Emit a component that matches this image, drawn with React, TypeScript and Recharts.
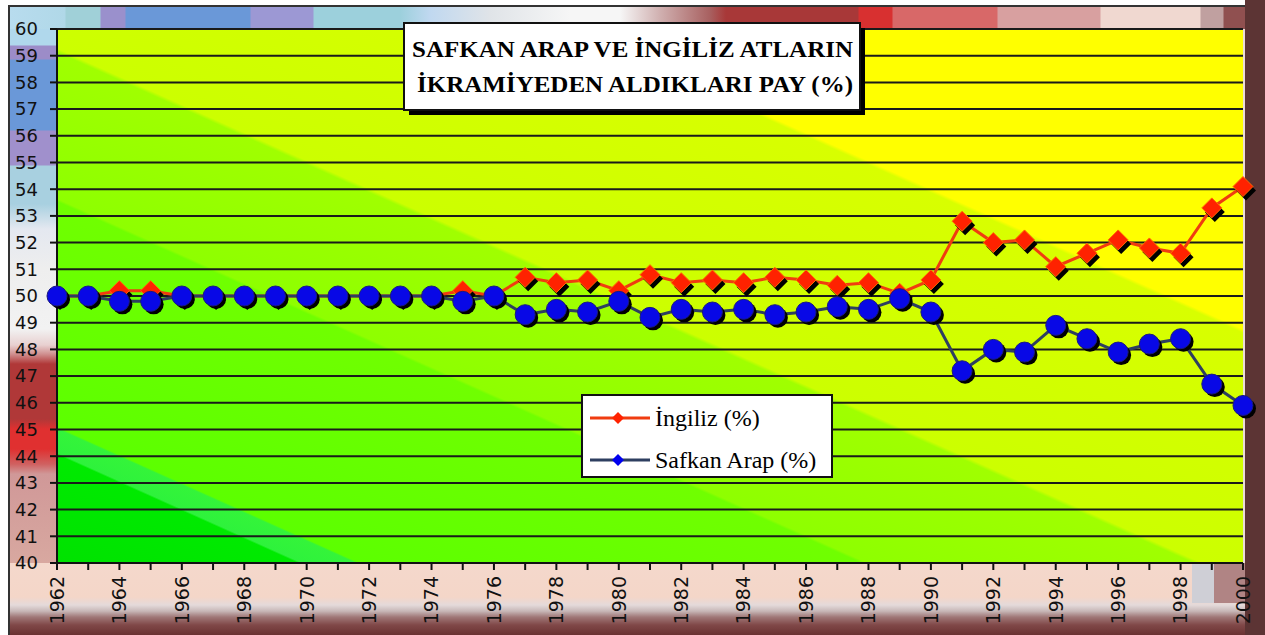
import React from 'react';
import { LineChart, Line, XAxis, YAxis, CartesianGrid, Legend } from 'recharts';

const years = [
  1962, 1963, 1964, 1965, 1966, 1967, 1968, 1969, 1970, 1971, 1972, 1973, 1974,
  1975, 1976, 1977, 1978, 1979, 1980, 1981, 1982, 1983, 1984, 1985, 1986, 1987,
  1988, 1989, 1990, 1991, 1992, 1993, 1994, 1995, 1996, 1997, 1998, 1999, 2000,
];

const ingilizShare = [
  50.0, 50.0, 50.2, 50.2, 50.0, 50.0, 50.0, 50.0, 50.0, 50.0, 50.0, 50.0, 50.0,
  50.2, 50.0, 50.7, 50.5, 50.6, 50.2, 50.8, 50.5, 50.6, 50.5, 50.7, 50.6, 50.4,
  50.5, 50.1, 50.6, 52.8, 52.0, 52.1, 51.1, 51.6, 52.1, 51.8, 51.6, 53.3, 54.1,
];

const safkanArapShare = [
  50.0, 50.0, 49.8, 49.8, 50.0, 50.0, 50.0, 50.0, 50.0, 50.0, 50.0, 50.0, 50.0,
  49.8, 50.0, 49.3, 49.5, 49.4, 49.8, 49.2, 49.5, 49.4, 49.5, 49.3, 49.4, 49.6,
  49.5, 49.9, 49.4, 47.2, 48.0, 47.9, 48.9, 48.4, 47.9, 48.2, 48.4, 46.7, 45.9,
];

const yTicks = [40, 41, 42, 43, 44, 45, 46, 47, 48, 49, 50, 51, 52, 53, 54, 55, 56, 57, 58, 59, 60];

const titleLines = ['SAFKAN ARAP VE İNGİLİZ ATLARIN', 'İKRAMİYEDEN ALDIKLARI PAY (%)'];
const seriesKeys = ['ingiliz', 'safkan'];
const seriesNames = { ingiliz: 'İngiliz (%)', safkan: 'Safkan Arap (%)' };

const data = years.map((year, i) => ({
  year,
  ingiliz: ingilizShare[i],
  safkan: safkanArapShare[i],
}));

const markerColors: Record<string, string> = { ingiliz: '#ff2200', safkan: '#0000ee' };

const XTick = (props: any) => {
  const { x, y, payload } = props;
  if (payload.value % 2 !== 0) return <g />;
  return (
    <text
      x={x}
      y={y}
      transform={`rotate(-90 ${x} ${y})`}
      textAnchor="end"
      dy="0.36em"
      fontFamily='"DejaVu Sans", sans-serif'
      fontSize={19}
      fill="#111"
    >
      {payload.value}
    </text>
  );
};

const RedDot = (props: any) => {
  const { cx, cy, index } = props;
  if (cx == null || cy == null) return <g key={`r-${index}`} />;
  const h = 10;
  const pts = (dx: number, dy: number) =>
    `${cx + dx},${cy + dy - h} ${cx + dx + h},${cy + dy} ${cx + dx},${cy + dy + h} ${cx + dx - h},${cy + dy}`;
  return (
    <g key={`r-${index}`}>
      <polygon points={pts(3, 4)} fill="#000" />
      <polygon points={pts(0, 0)} fill="#ff2200" stroke="#ff6a00" strokeWidth={1} />
    </g>
  );
};

const BlueDot = (props: any) => {
  const { cx, cy, index } = props;
  if (cx == null || cy == null) return <g key={`b-${index}`} />;
  return (
    <g key={`b-${index}`}>
      <circle cx={cx + 3} cy={cy + 3} r={10} fill="#000" />
      <circle cx={cx} cy={cy} r={10} fill="#0808e6" stroke="#1a1a80" strokeWidth={1} />
    </g>
  );
};

const LegendBox = (props: any) => {
  const payload = [...(props.payload || [])].sort(
    (a: any, b: any) => seriesKeys.indexOf(a.dataKey) - seriesKeys.indexOf(b.dataKey)
  );
  return (
    <div
      style={{
        width: 252,
        height: 84,
        background: '#fff',
        border: '2px solid #111',
        boxSizing: 'border-box',
        fontFamily: '"Liberation Serif", "Times New Roman", serif',
        fontSize: 24,
        color: '#000',
        paddingTop: 1,
      }}
    >
      {payload.map((entry: any, i: number) => (
        <div key={i} style={{ display: 'flex', alignItems: 'center', height: 42, marginLeft: 5 }}>
          <svg width={64} height={16} style={{ display: 'block' }}>
            <line x1={2} y1={8} x2={62} y2={8} stroke={entry.color} strokeWidth={3} />
            <polygon points="30,2 36,8 30,14 24,8" fill={markerColors[entry.dataKey] || entry.color} />
          </svg>
          <span style={{ marginLeft: 3, whiteSpace: 'nowrap', lineHeight: '24px' }}>{entry.value}</span>
        </div>
      ))}
    </div>
  );
};

const layer = (style: React.CSSProperties): React.CSSProperties => ({ position: 'absolute', ...style });

export default function App() {
  return (
    <div style={{ position: 'absolute', left: 0, top: 0, width: 1265, height: 635, background: '#fff', overflow: 'hidden' }}>
      <div style={layer({ left: 8, top: 5, width: 1257, height: 630, borderLeft: '2px solid #333', borderTop: '2px solid #333', boxSizing: 'border-box', background: '#eadcd8' })} />
      <div
        style={layer({
          left: 10,
          top: 7,
          width: 1235,
          height: 22,
          background:
            'linear-gradient(to right, #b8dcee 0px, #b0d8e8 55px, #a0d0d8 56px, #a0d0d8 90px, #9a90cc 91px, #9a90cc 115px, #6a98d8 116px, #6a98d8 240px, #9c98d4 241px, #9c98d4 303px, #9cd0dc 304px, #9cd0dc 390px, #c0d8f0 420px, #e0e4e8 480px, #f6f6f6 560px, #f6f6f6 610px, #d0b0b0 650px, #a86060 700px, #a83838 716px, #a83838 848px, #d83030 849px, #d83030 882px, #d86868 883px, #d86868 987px, #d8a0a0 988px, #d8a0a0 1090px, #f0d8d0 1091px, #f0d8d0 1190px, #c0a0a0 1191px, #c0a0a0 1213px, #905050 1214px, #905050 1235px)',
        })}
      />
      <div
        style={layer({
          left: 10,
          top: 29,
          width: 47,
          height: 534,
          background:
            'linear-gradient(to bottom, #b0d8ec 0px, #b0d8ec 16px, #9c8cc8 17px, #9c8cc8 30px, #6a98d8 31px, #6a98d8 101px, #a090cc 102px, #a090cc 136px, #a8d0e0 137px, #a8d0e0 175px, #e4e8f0 200px, #eeeeee 240px, #f2f2f2 300px, #e8d0d0 316px, #d09090 325px, #b03838 335px, #b03838 390px, #e03030 400px, #e03030 420px, #d06060 435px, #d09898 445px, #d8a8a0 534px)',
        })}
      />
      <div
        style={layer({
          left: 10,
          top: 563,
          width: 1235,
          height: 72,
          background:
            'linear-gradient(to bottom, #f4d8cc 0px, #f4d6c8 34px, #e4dada 42px, #c8b8b8 48px, #a07878 54px, #804848 62px, #6a3232 72px)',
        })}
      />
      <div style={layer({ left: 1192, top: 563, width: 22, height: 40, background: '#cfcfd6' })} />
      <div style={layer({ left: 1214, top: 563, width: 31, height: 40, background: '#b08484' })} />
      <div style={layer({ left: 1245, top: 0, width: 20, height: 635, background: '#5c3434' })} />

      <div style={layer({ left: 0, top: 0 })}>
        <LineChart width={1265} height={635} data={data} margin={{ top: 29, right: 22, left: 0, bottom: 0 }}>
          <defs>
            <linearGradient id="plotBg" gradientUnits="userSpaceOnUse" x1={58} y1={563} x2={418} y2={-238}>
              <stop offset="0" stopColor="#00e200" />
              <stop offset="0.112" stopColor="#00ea00" />
              <stop offset="0.114" stopColor="#2ef23c" />
              <stop offset="0.139" stopColor="#34f43a" />
              <stop offset="0.141" stopColor="#5cff00" />
              <stop offset="0.375" stopColor="#70ff00" />
              <stop offset="0.378" stopColor="#8eff00" />
              <stop offset="0.530" stopColor="#a0ff00" />
              <stop offset="0.534" stopColor="#ccff00" />
              <stop offset="0.792" stopColor="#d8ff00" />
              <stop offset="0.796" stopColor="#ffff00" />
              <stop offset="1" stopColor="#ffff00" />
            </linearGradient>
          </defs>
          <CartesianGrid vertical={false} fill="url(#plotBg)" fillOpacity={1} stroke="#1a1a1a" strokeWidth={2} />
          <XAxis
            dataKey="year"
            type="number"
            domain={[1962, 2000]}
            ticks={years}
            interval={0}
            height={72}
            tickSize={7}
            tickMargin={6}
            tick={<XTick />}
            axisLine={{ stroke: '#111', strokeWidth: 2 }}
            tickLine={{ stroke: '#111', strokeWidth: 2 }}
          />
          <YAxis
            type="number"
            domain={[40, 60]}
            ticks={yTicks}
            interval={0}
            width={57}
            tickSize={7}
            tickMargin={12}
            tick={{ fontFamily: '"DejaVu Sans", sans-serif', fontSize: 18, fill: '#111' }}
            axisLine={{ stroke: '#111', strokeWidth: 2 }}
            tickLine={{ stroke: '#111', strokeWidth: 2 }}
          />
          <Legend
            layout="vertical"
            align="center"
            verticalAlign="middle"
            content={<LegendBox />}
            wrapperStyle={{ left: 581, top: 394, width: 252, height: 84 }}
          />
          <Line
            type="linear"
            dataKey="ingiliz"
            name={seriesNames.ingiliz}
            stroke="#f03c10"
            strokeWidth={3}
            dot={RedDot}
            activeDot={false}
            isAnimationActive={false}
          />
          <Line
            type="linear"
            dataKey="safkan"
            name={seriesNames.safkan}
            stroke="#2e3f60"
            strokeWidth={3}
            dot={BlueDot}
            activeDot={false}
            isAnimationActive={false}
          />
        </LineChart>
      </div>

      <svg width={1265} height={635} style={layer({ left: 0, top: 0, pointerEvents: 'none' })}>
        <rect x={409} y={28} width={456} height={87} fill="#000" />
        <rect x={404} y={23} width={456} height={87} fill="#fff" stroke="#111" strokeWidth={2} />
        <text
          x={412}
          y={57}
          textLength={441}
          lengthAdjust="spacingAndGlyphs"
          fontFamily='"Liberation Serif", "Times New Roman", serif'
          fontWeight="bold"
          fontSize={23}
          fill="#000"
        >
          {titleLines[0]}
        </text>
        <text
          x={417}
          y={92}
          textLength={436}
          lengthAdjust="spacingAndGlyphs"
          fontFamily='"Liberation Serif", "Times New Roman", serif'
          fontWeight="bold"
          fontSize={23}
          fill="#000"
        >
          {titleLines[1]}
        </text>
      </svg>
    </div>
  );
}
